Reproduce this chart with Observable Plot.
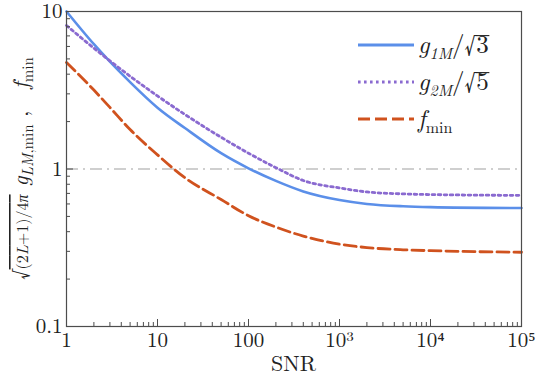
<!DOCTYPE html>
<html>
<head>
<meta charset="utf-8">
<script src="https://cdn.jsdelivr.net/npm/d3@7"></script>
<script src="https://cdn.jsdelivr.net/npm/@observablehq/plot@0.6"></script>
<style>
  html, body { margin: 0; padding: 0; background: #fff; }
  #chart { width: 538px; height: 378px; }
  #chart svg text, #chart svg tspan { font-family: "Latin Modern Roman", "Liberation Serif", serif !important; }
</style>
</head>
<body>
<div id="chart"></div>
<script>
// ---- data ----
const snr = [1, 2, 3, 5, 10, 20, 50, 100, 200, 400, 1000, 2000, 5000, 10000, 100000];
const g1 = [10.0, 6.2, 4.8, 3.56, 2.45, 1.82, 1.26, 1.01, 0.84, 0.72, 0.635, 0.60, 0.58, 0.573, 0.565];
const g2 = [8.15, 5.85, 4.86, 3.88, 2.91, 2.22, 1.59, 1.26, 1.02, 0.845, 0.758, 0.715, 0.695, 0.688, 0.68];
const fmin = [4.75, 3.17, 2.46, 1.78, 1.23, 0.88, 0.64, 0.505, 0.428, 0.375, 0.333, 0.317, 0.307, 0.303, 0.296];
const xMajor = [1, 10, 100, 1000, 10000, 100000];
const xLabels = ["1", "10", "100", "10³", "10⁴", "10⁵"];
const yMajor = [0.1, 1, 10];
const yLabels = ["0.1", "1", "10"];
const refLine = [1];

const colors = { g1: "#5b8fe9", g2: "#8a6ad0", fmin: "#d0521e" };

const W = 538, H = 378;
const M = { top: 11, right: 17, bottom: 52, left: 66 };
const plotW = W - M.left - M.right, plotH = H - M.top - M.bottom;

const xMinor = [];
for (let d = 1; d < 100000; d *= 10) for (let k = 2; k <= 9; k++) xMinor.push(d * k);
const yMinor = [];
for (let d = 0.1; d < 10; d *= 10) for (let k = 2; k <= 9; k++) yMinor.push(+(d * k).toPrecision(3));

const rows = (vals) => snr.map((s, i) => ({ snr: s, v: vals[i] }));

const frameColor = "#4d4d4d";
const font = "\"Latin Modern Roman\", \"Liberation Serif\", serif";

const plot = Plot.plot({
  width: W, height: H,
  marginTop: M.top, marginRight: M.right, marginBottom: M.bottom, marginLeft: M.left,
  style: { fontFamily: font, fontSize: "21px", color: "#222", background: "#fff", overflow: "visible" },
  x: { type: "log", domain: [1, 100000] },
  y: { type: "log", domain: [0.1, 10] },
  marks: [
    Plot.ruleY(refLine, { stroke: "#cfcfcf", strokeWidth: 2, strokeDasharray: "12,5,2,5" }),
    Plot.line(rows(g1), { x: "snr", y: "v", stroke: colors.g1, strokeWidth: 2.6, curve: "monotone-x" }),
    Plot.line(rows(g2), { x: "snr", y: "v", stroke: colors.g2, strokeWidth: 2.8, strokeDasharray: "2.6,3.4", curve: "monotone-x" }),
    Plot.line(rows(fmin), { x: "snr", y: "v", stroke: colors.fmin, strokeWidth: 2.8, strokeDasharray: "12,5", curve: "monotone-x" }),
    Plot.tickX(xMajor, { x: d => d, insetTop: plotH - 7, stroke: frameColor, strokeWidth: 1 }),
    Plot.tickX(xMinor, { x: d => d, insetTop: plotH - 4, stroke: frameColor, strokeWidth: 1 }),
    Plot.tickY(yMajor, { y: d => d, insetRight: plotW - 7, stroke: frameColor, strokeWidth: 1 }),
    Plot.tickY(yMinor, { y: d => d, insetRight: plotW - 4, stroke: frameColor, strokeWidth: 1 }),
    Plot.axisX({ ticks: xMajor, tickSize: 0, tickPadding: 6, label: null,
      tickFormat: d => xLabels[xMajor.indexOf(d)] }),
    Plot.axisY({ ticks: yMajor, tickSize: 0, tickPadding: 4, label: null,
      tickFormat: d => yLabels[yMajor.indexOf(d)] }),
    Plot.frame({ stroke: frameColor, strokeWidth: 1.2 })
  ]
});

document.getElementById("chart").appendChild(plot);
const svg = d3.select(plot);

// x label
svg.append("text")
  .attr("x", M.left + plotW / 2).attr("y", 371)
  .attr("text-anchor", "middle")
  .style("font-size", "22px").attr("fill", "#222")
  .text("SNR");

// y label (rotated)
const yl = svg.append("text")
  .attr("transform", `translate(28,${M.top + plotH / 2}) rotate(-90)`)
  .attr("text-anchor", "middle")
  .style("font-size", "22px").attr("fill", "#222");
yl.append("tspan").text("√");
const frac = yl.append("tspan").style("font-size", "16px").style("text-decoration", "overline");
frac.append("tspan").text("(2");
frac.append("tspan").style("font-style", "italic").text("L");
frac.append("tspan").text("+1)/4");
frac.append("tspan").style("font-style", "italic").text("π");
yl.append("tspan").style("font-style", "italic").text(" g");
yl.append("tspan").style("font-size", "15px").style("font-style", "italic").attr("dy", 5).text("LM");
yl.append("tspan").style("font-size", "15px").text(",min");
yl.append("tspan").attr("dy", -5).text(" ,   ");
yl.append("tspan").style("font-style", "italic").text("f");
yl.append("tspan").style("font-size", "15px").attr("dy", 5).text("min");

// measure the radical glyph top for the legend's root bars
const legendFs = 25;
let rootAscent = 0.8 * legendFs;
try {
  const ctx = document.createElement("canvas").getContext("2d");
  ctx.font = `${legendFs}px "Latin Modern Roman", "Liberation Serif", serif`;
  const m = ctx.measureText("√");
  if (m.actualBoundingBoxAscent > 0) rootAscent = m.actualBoundingBoxAscent;
} catch (e) {}

// legend
const legend = [
  { key: "g1", y: 45, dash: null, sub: "1M", root: "3" },
  { key: "g2", y: 82, dash: "2.6,3.4", sub: "2M", root: "5" },
  { key: "fmin", y: 119, dash: "12,5", sub: null, root: null }
];
legend.forEach(l => {
  const ln = svg.append("line")
    .attr("x1", 358).attr("x2", 414).attr("y1", l.y).attr("y2", l.y)
    .attr("stroke", colors[l.key]).attr("stroke-width", 2.8);
  if (l.dash) ln.attr("stroke-dasharray", l.dash);
  const base = l.y + 8;
  const t = svg.append("text")
    .attr("x", 418).attr("y", base)
    .attr("text-anchor", "start")
    .style("font-size", legendFs + "px").attr("fill", "#222");
  if (l.sub) {
    t.append("tspan").style("font-style", "italic").text("g");
    t.append("tspan").style("font-size", "16px").style("font-style", "italic").attr("dy", 6).text(l.sub);
    t.append("tspan").attr("dy", -6).text("/√");
    t.append("tspan").text(l.root);
    try {
      const node = t.node();
      const eRoot = node.getExtentOfChar(4);
      const eNum = node.getExtentOfChar(5);
      const yBar = base - rootAscent + 0.6;
      svg.append("line")
        .attr("x1", eRoot.x + eRoot.width - 0.8).attr("x2", eNum.x + eNum.width + 0.5)
        .attr("y1", yBar).attr("y2", yBar)
        .attr("stroke", "#222").attr("stroke-width", 1.1);
    } catch (e) {}
  } else {
    t.append("tspan").style("font-style", "italic").text("f");
    t.append("tspan").style("font-size", "16px").attr("dy", 6).text("min");
  }
});
</script>
</body>
</html>
